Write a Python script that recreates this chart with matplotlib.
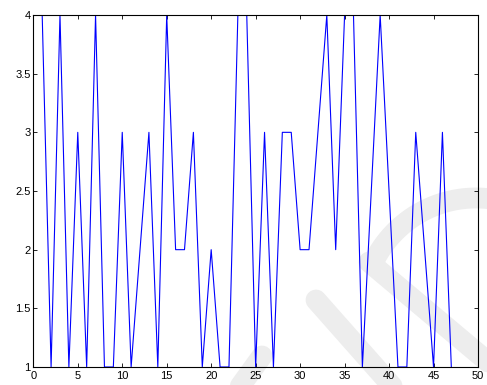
import matplotlib
matplotlib.use("Agg")
import matplotlib.pyplot as plt
from matplotlib.lines import Line2D
import numpy as np

# data
x_vals = list(range(1, 48))
y_vals = [4, 1, 4, 1, 3, 1, 4, 1, 1, 3,
          1, 2, 3, 1, 4, 2, 2, 3, 1, 2,
          1, 1, 4, 4, 1, 3, 1, 3, 3, 2,
          2, 3, 4, 2, 4, 4, 1, 2.5, 4, 2.5,
          1, 1, 3, 2, 1, 3, 1]
x_ticks = [0, 5, 10, 15, 20, 25, 30, 35, 40, 45, 50]
y_ticks = [1, 1.5, 2, 2.5, 3, 3.5, 4]
y_tick_labels = ["1", "1.5", "2", "2.5", "3", "3.5", "4"]

W, H = 487, 385
fig = plt.figure(figsize=(W / 100, H / 100), dpi=100)
fig.patch.set_facecolor("white")

# faint watermark decoration (figure pixel coords)
def px(x, y):
    return x / W, 1 - y / H

wm_color = "#ededed"
wm_lw = 15
for (x0, y0), (x1, y1) in [((316, 300), (400, 395)),
                           ((369, 262), (500, 372)),
                           ((262, 356), (236, 392))]:
    a, b = px(x0, y0), px(x1, y1)
    fig.add_artist(Line2D([a[0], b[0]], [a[1], b[1]], transform=fig.transFigure,
                          color=wm_color, lw=wm_lw, solid_capstyle="round", zorder=-5))
cx, cy, r = 476, 312, 114
ang = np.linspace(np.deg2rad(205), np.deg2rad(280), 60)
fx = (cx + r * np.cos(ang)) / W
fy = 1 - (cy + r * np.sin(ang)) / H
fig.add_artist(Line2D(fx, fy, transform=fig.transFigure, color=wm_color,
                      lw=wm_lw, solid_capstyle="round", zorder=-5))

ax = fig.add_axes([33.3 / W, 1 - 367 / H, (478 - 33.3) / W, (367 - 15) / H])
ax.set_facecolor("none")
ax.plot(x_vals, y_vals, color="#0000ff", lw=0.8)

ax.set_xlim(0, 50)
ax.set_ylim(1, 4)
ax.set_xticks(x_ticks)
ax.set_yticks(y_ticks)
ax.set_yticklabels(y_tick_labels)
ax.tick_params(direction="in", length=3, width=0.6, top=True, right=True,
               labelsize=8, colors="black")
ax.tick_params(axis="x", pad=3)
ax.tick_params(axis="y", pad=2)
for lab in ax.get_xticklabels() + ax.get_yticklabels():
    lab.set_family("Liberation Sans")
for s in ax.spines.values():
    s.set_linewidth(0.8)
    s.set_color("black")

fig.savefig("out.png", dpi=100)
